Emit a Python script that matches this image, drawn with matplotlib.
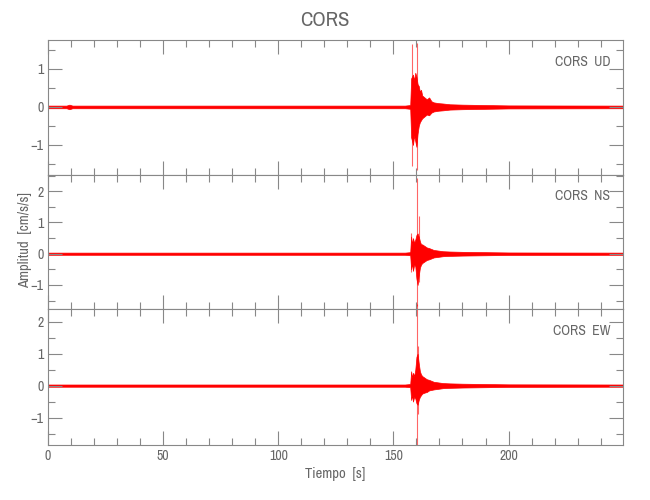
import matplotlib
matplotlib.use("Agg")
import matplotlib.pyplot as plt
from matplotlib import font_manager
from matplotlib.ticker import MultipleLocator

# pick a narrow face if one is installed
names = sorted({f.name for f in font_manager.fontManager.ttflist})
narrow = [n for n in names if 'Narrow' in n or 'Condensed' in n]
plt.rcParams['font.family'] = narrow[:1] + ['DejaVu Sans']

station = "CORS"
components = ["UD", "NS", "EW"]
t_end = 249.7

# envelope knots (time [s], upper, lower in cm/s/s)
t_ud = [0, 8, 9.3, 10.6, 155, 157.3, 157.7, 158.5, 159, 159.5, 160, 160.5, 161, 161.5,
        162, 162.5, 163.5, 164.5, 165.5, 166.5, 167.5, 169.5, 171.5, 174.5, 180, 190, 200, 249.7]
up_ud = [.035, .035, .06, .035, .035, .05, .75, .85, .7, .9, .8, .6, .55, .4,
         .45, .3, .25, .2, .25, .15, .12, .1, .09, .07, .06, .05, .04, .035]
lo_ud = [-.035, -.035, -.06, -.035, -.035, -.05, -.8, -1.0, -.75, -.9, -1.05, -.7, -.5, -.4,
         -.35, -.3, -.25, -.2, -.22, -.15, -.12, -.1, -.09, -.07, -.06, -.05, -.04, -.035]

t_ns = [0, 155, 157.3, 157.7, 158.1, 158.5, 159, 159.5, 160, 160.5, 161, 161.5, 162,
        162.5, 163.5, 164.5, 165.5, 167.5, 169.5, 171.5, 174.5, 180, 190, 200, 249.7]
up_ns = [.035, .035, .05, .55, .3, .5, .35, .45, .6, .65, .55, .4, .3,
         .3, .25, .2, .18, .12, .1, .08, .07, .06, .05, .04, .035]
lo_ns = [-.035, -.035, -.05, -.5, -.3, -.55, -.35, -.4, -.8, -1.0, -.7, -.45, -.35,
         -.3, -.25, -.2, -.18, -.12, -.1, -.08, -.07, -.06, -.05, -.04, -.035]

t_ew = [0, 155, 157.3, 157.7, 158.1, 158.5, 159, 159.5, 160, 160.5, 161, 161.5, 162,
        162.5, 163.5, 164.5, 165.5, 167.5, 169.5, 171.5, 174.5, 180, 190, 200, 249.7]
up_ew = [.035, .035, .05, .45, .25, .4, .3, .5, .9, 1.0, .7, .45, .35,
         .3, .25, .2, .18, .12, .1, .08, .07, .06, .05, .04, .035]
lo_ew = [-.035, -.035, -.05, -.45, -.3, -.5, -.35, -.4, -.55, -.6, -.45, -.35, -.3,
         -.25, -.22, -.2, -.15, -.12, -.1, -.08, -.07, -.06, -.05, -.04, -.035]

# sharp peaks
spk_t = [[157.9, 160.3], [157.7, 160.3, 161.1], [160.3, 160.8]]
spk_hi = [[1.66, 1.68], [0.65, 2.42, 1.22], [2.55, 1.25]]
spk_lo = [[-1.56, -1.65], [-0.6, -1.66, -0.9], [-1.85, -0.9]]

ylims = [(-1.79, 1.76), (-1.77, 2.52), (-1.86, 2.4)]
yticks = [[-1, 0, 1], [-1, 0, 1, 2], [-1, 0, 1, 2]]

env = [(t_ud, up_ud, lo_ud), (t_ns, up_ns, lo_ns), (t_ew, up_ew, lo_ew)]

gray = '#666666'
fig = plt.figure(figsize=(6.5, 5), dpi=100)
# panel boxes in pixels from the top
edges = [40, 175, 309, 445]
axs = []
for i in range(3):
    b = 1 - edges[i + 1] / 500
    h = (edges[i + 1] - edges[i]) / 500
    ax = fig.add_axes([48 / 650, b, 575 / 650, h])
    axs.append(ax)
    t, up, lo = env[i]
    ax.fill_between(t, lo, up, color='red', lw=0.5, edgecolor='red')
    ax.vlines(spk_t[i], spk_lo[i], spk_hi[i], color='red', lw=0.8, alpha=0.6, clip_on=False)
    ax.set_xlim(0, t_end)
    ax.set_ylim(*ylims[i])
    ax.set_yticks(yticks[i])
    ax.set_yticklabels([str(v).replace('-', '\u2212') for v in yticks[i]])
    ax.yaxis.set_minor_locator(MultipleLocator(0.5))
    ax.xaxis.set_major_locator(MultipleLocator(50))
    ax.xaxis.set_minor_locator(MultipleLocator(10))
    ax.tick_params(which='both', direction='in', top=True, right=True, colors='#888888',
                   labelcolor=gray, labelsize=10, pad=3)
    ax.tick_params(which='major', length=10, width=0.8)
    ax.tick_params(which='minor', length=5, width=0.8)
    for s in ax.spines.values():
        s.set_color('#888888')
        s.set_linewidth(0.8)
    if i < 2:
        ax.tick_params(labelbottom=False)
    ax.text(0.978, 0.84, station + "  " + components[i], transform=ax.transAxes,
            ha='right', va='center', fontsize=10, color=gray)

axs[2].set_xlabel('Tiempo  [s]', fontsize=10.5, color=gray, labelpad=3)
fig.text(25 / 650, 0.52, 'Amplitud  [cm/s/s]', rotation=90, ha='center', va='center',
         fontsize=10.5, color=gray)
fig.text(0.5, 0.96, station, ha='center', va='center', fontsize=15, color=gray)

fig.savefig('out.png', dpi=100)
